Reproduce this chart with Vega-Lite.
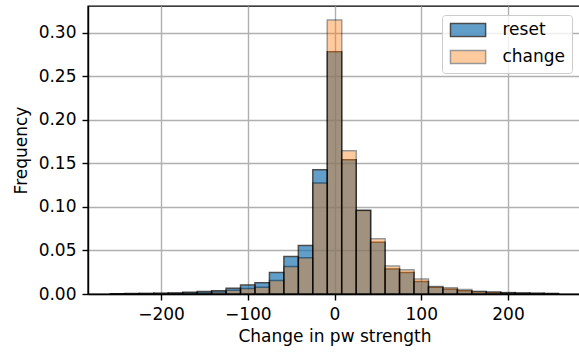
{
  "$schema": "https://vega.github.io/schema/vega-lite/v6.json",
  "width": 493,
  "height": 288,
  "autosize": {"type": "none"},
  "padding": {"left": 88, "top": 6, "right": 0, "bottom": 58},
  "background": "white",
  "datasets": {
    "hist": [
      {"series": "reset", "bin_start": -258.33, "bin_end": -241.67, "freq": 0.0003},
      {"series": "reset", "bin_start": -241.67, "bin_end": -225.0, "freq": 0.0005},
      {"series": "reset", "bin_start": -225.0, "bin_end": -208.33, "freq": 0.0007},
      {"series": "reset", "bin_start": -208.33, "bin_end": -191.67, "freq": 0.0009},
      {"series": "reset", "bin_start": -191.67, "bin_end": -175.0, "freq": 0.0012},
      {"series": "reset", "bin_start": -175.0, "bin_end": -158.33, "freq": 0.002},
      {"series": "reset", "bin_start": -158.33, "bin_end": -141.67, "freq": 0.003},
      {"series": "reset", "bin_start": -141.67, "bin_end": -125.0, "freq": 0.0038},
      {"series": "reset", "bin_start": -125.0, "bin_end": -108.33, "freq": 0.0066},
      {"series": "reset", "bin_start": -108.33, "bin_end": -91.67, "freq": 0.0104},
      {"series": "reset", "bin_start": -91.67, "bin_end": -75.0, "freq": 0.013},
      {"series": "reset", "bin_start": -75.0, "bin_end": -58.33, "freq": 0.0246},
      {"series": "reset", "bin_start": -58.33, "bin_end": -41.67, "freq": 0.043},
      {"series": "reset", "bin_start": -41.67, "bin_end": -25.0, "freq": 0.0557},
      {"series": "reset", "bin_start": -25.0, "bin_end": -8.33, "freq": 0.1429},
      {"series": "reset", "bin_start": -8.33, "bin_end": 8.33, "freq": 0.2785},
      {"series": "reset", "bin_start": 8.33, "bin_end": 25.0, "freq": 0.1544},
      {"series": "reset", "bin_start": 25.0, "bin_end": 41.67, "freq": 0.096},
      {"series": "reset", "bin_start": 41.67, "bin_end": 58.33, "freq": 0.0595},
      {"series": "reset", "bin_start": 58.33, "bin_end": 75.0, "freq": 0.0288},
      {"series": "reset", "bin_start": 75.0, "bin_end": 91.67, "freq": 0.0246},
      {"series": "reset", "bin_start": 91.67, "bin_end": 108.33, "freq": 0.0144},
      {"series": "reset", "bin_start": 108.33, "bin_end": 125.0, "freq": 0.0077},
      {"series": "reset", "bin_start": 125.0, "bin_end": 141.67, "freq": 0.0056},
      {"series": "reset", "bin_start": 141.67, "bin_end": 158.33, "freq": 0.0038},
      {"series": "reset", "bin_start": 158.33, "bin_end": 175.0, "freq": 0.0023},
      {"series": "reset", "bin_start": 175.0, "bin_end": 191.67, "freq": 0.0018},
      {"series": "reset", "bin_start": 191.67, "bin_end": 208.33, "freq": 0.0013},
      {"series": "reset", "bin_start": 208.33, "bin_end": 225.0, "freq": 0.001},
      {"series": "reset", "bin_start": 225.0, "bin_end": 241.67, "freq": 0.0007},
      {"series": "reset", "bin_start": 241.67, "bin_end": 258.33, "freq": 0.0004},
      {"series": "change", "bin_start": -258.33, "bin_end": -241.67, "freq": 0.0002},
      {"series": "change", "bin_start": -241.67, "bin_end": -225.0, "freq": 0.0003},
      {"series": "change", "bin_start": -225.0, "bin_end": -208.33, "freq": 0.0004},
      {"series": "change", "bin_start": -208.33, "bin_end": -191.67, "freq": 0.0006},
      {"series": "change", "bin_start": -191.67, "bin_end": -175.0, "freq": 0.0008},
      {"series": "change", "bin_start": -175.0, "bin_end": -158.33, "freq": 0.0012},
      {"series": "change", "bin_start": -158.33, "bin_end": -141.67, "freq": 0.0016},
      {"series": "change", "bin_start": -141.67, "bin_end": -125.0, "freq": 0.0023},
      {"series": "change", "bin_start": -125.0, "bin_end": -108.33, "freq": 0.0042},
      {"series": "change", "bin_start": -108.33, "bin_end": -91.67, "freq": 0.0062},
      {"series": "change", "bin_start": -91.67, "bin_end": -75.0, "freq": 0.0077},
      {"series": "change", "bin_start": -75.0, "bin_end": -58.33, "freq": 0.0154},
      {"series": "change", "bin_start": -58.33, "bin_end": -41.67, "freq": 0.0315},
      {"series": "change", "bin_start": -41.67, "bin_end": -25.0, "freq": 0.0418},
      {"series": "change", "bin_start": -25.0, "bin_end": -8.33, "freq": 0.1275},
      {"series": "change", "bin_start": -8.33, "bin_end": 8.33, "freq": 0.315},
      {"series": "change", "bin_start": 8.33, "bin_end": 25.0, "freq": 0.1647},
      {"series": "change", "bin_start": 25.0, "bin_end": 41.67, "freq": 0.0963},
      {"series": "change", "bin_start": 41.67, "bin_end": 58.33, "freq": 0.0636},
      {"series": "change", "bin_start": 58.33, "bin_end": 75.0, "freq": 0.0321},
      {"series": "change", "bin_start": 75.0, "bin_end": 91.67, "freq": 0.028},
      {"series": "change", "bin_start": 91.67, "bin_end": 108.33, "freq": 0.0173},
      {"series": "change", "bin_start": 108.33, "bin_end": 125.0, "freq": 0.0087},
      {"series": "change", "bin_start": 125.0, "bin_end": 141.67, "freq": 0.0073},
      {"series": "change", "bin_start": 141.67, "bin_end": 158.33, "freq": 0.0052},
      {"series": "change", "bin_start": 158.33, "bin_end": 175.0, "freq": 0.0033},
      {"series": "change", "bin_start": 175.0, "bin_end": 191.67, "freq": 0.0025},
      {"series": "change", "bin_start": 191.67, "bin_end": 208.33, "freq": 0.0017},
      {"series": "change", "bin_start": 208.33, "bin_end": 225.0, "freq": 0.0013},
      {"series": "change", "bin_start": 225.0, "bin_end": 241.67, "freq": 0.001},
      {"series": "change", "bin_start": 241.67, "bin_end": 258.33, "freq": 0.0007}
    ]
  },
  "data": {"name": "hist"},
  "mark": {"type": "rect", "stroke": "black", "strokeWidth": 1.5},
  "encoding": {
    "x": {
      "field": "bin_start",
      "type": "quantitative",
      "scale": {"domain": [-284.2, 284.2], "nice": false, "zero": false},
      "axis": {
        "title": "Change in pw strength",
        "values": [-200, -100, 0, 100, 200],
        "format": "d",
        "tickSize": 6,
        "labelPadding": 6,
        "titlePadding": 6
      }
    },
    "x2": {"field": "bin_end"},
    "y": {
      "field": "freq",
      "type": "quantitative",
      "scale": {"domain": [0, 0.331], "nice": false},
      "axis": {
        "title": "Frequency",
        "values": [0, 0.05, 0.1, 0.15, 0.2, 0.25, 0.3],
        "format": ".2f",
        "tickSize": 6,
        "labelPadding": 6,
        "titlePadding": 8
      }
    },
    "y2": {"datum": 0},
    "color": {
      "field": "series",
      "type": "nominal",
      "scale": {"domain": ["reset", "change"], "range": ["#1f77b4", "#ff7f0e"]},
      "legend": {
        "title": null,
        "orient": "top-right",
        "offset": 9,
        "padding": 6.5,
        "symbolType": "M-1,-1H4.4V1H-1Z",
        "symbolSize": 169,
        "symbolStrokeColor": "black",
        "symbolStrokeWidth": 1.5,
        "labelOffset": 37,
        "rowPadding": 8,
        "fillColor": "rgba(255,255,255,0.8)",
        "strokeColor": "#cccccc",
        "cornerRadius": 3
      }
    },
    "opacity": {
      "field": "series",
      "type": "nominal",
      "scale": {"domain": ["reset", "change"], "range": [0.7, 0.4]},
      "legend": null
    }
  },
  "config": {
    "view": {"stroke": "black", "strokeWidth": 1.4},
    "font": "DejaVu Sans",
    "axis": {
      "zindex": 1,
      "grid": true,
      "gridColor": "#b0b0b0",
      "gridWidth": 1.4,
      "domainColor": "black",
      "domainWidth": 1.4,
      "tickColor": "black",
      "tickWidth": 1.4,
      "labelFont": "DejaVu Sans",
      "labelFontSize": 17,
      "labelColor": "black",
      "labelFlush": false,
      "labelOverlap": false,
      "titleFont": "DejaVu Sans",
      "titleFontSize": 17,
      "titleFontWeight": "normal",
      "titleColor": "black"
    },
    "legend": {
      "labelFont": "DejaVu Sans",
      "labelFontSize": 17,
      "labelColor": "black"
    }
  }
}
